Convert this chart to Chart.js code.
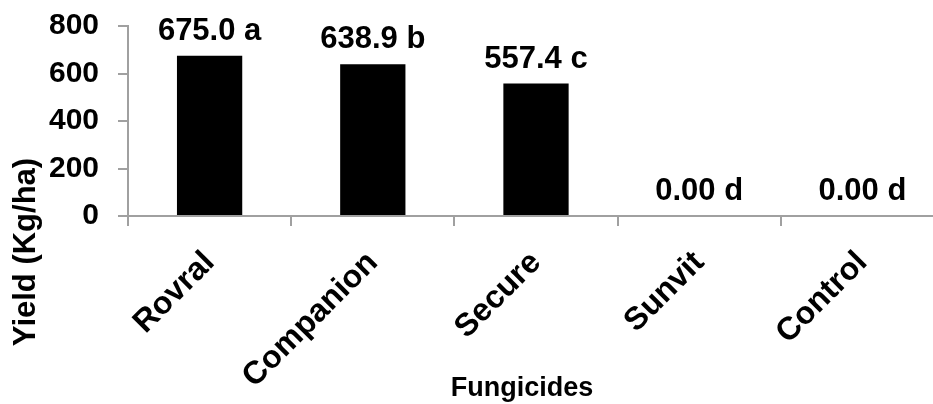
<!DOCTYPE html>
<html>
<head>
<meta charset="utf-8">
<script src="https://cdn.jsdelivr.net/npm/chart.js@4.4.1/dist/chart.umd.min.js"></script>
<style>
  html, body { margin: 0; padding: 0; background: #ffffff; overflow: hidden; }
  #wrap { position: relative; width: 944px; height: 404px; }
</style>
</head>
<body>
<div id="wrap"><canvas id="c"></canvas></div>
<script>
const categories = ['Rovral', 'Companion', 'Secure', 'Sunvit', 'Control'];
const yieldValues = [675.0, 638.9, 557.4, 0.00, 0.00];
const valueTexts = ['675.0', '638.9', '557.4', '0.00', '0.00'];
const letters = ['a', 'b', 'c', 'd', 'd'];
const yTicks = [0, 200, 400, 600, 800];
const xTitle = 'Fungicides';
const yTitle = 'Yield (Kg/ha)';

const FONT = "'Liberation Sans', Arial, Helvetica, sans-serif";
const AXIS_COLOR = '#a0a0a0';

const labelPlugin = {
  id: 'barLabels',
  afterDatasetsDraw(chart) {
    const ctx = chart.ctx;
    const meta = chart.getDatasetMeta(0);
    ctx.save();
    ctx.font = 'bold 31px ' + FONT;
    ctx.fillStyle = '#000000';
    ctx.textAlign = 'center';
    ctx.textBaseline = 'alphabetic';
    meta.data.forEach((bar, i) => {
      ctx.fillText(valueTexts[i] + ' ' + letters[i], bar.x, bar.y - 16);
    });
    ctx.restore();
  },
  afterDraw(chart) {
    const ctx = chart.ctx;
    ctx.save();
    ctx.fillStyle = '#000000';
    ctx.font = 'bold 27px ' + FONT;
    ctx.textAlign = 'center';
    ctx.textBaseline = 'middle';
    ctx.fillText(xTitle, 522, 389);
    ctx.font = 'bold 31px ' + FONT;
    ctx.textBaseline = 'alphabetic';
    ctx.translate(35, 252);
    ctx.rotate(-Math.PI / 2);
    ctx.fillText(yTitle, 0, 0);
    ctx.restore();
  }
};

new Chart(document.getElementById('c'), {
  type: 'bar',
  data: {
    labels: categories,
    datasets: [{
      data: yieldValues,
      backgroundColor: '#000000',
      borderColor: '#000000',
      borderWidth: 0,
      barPercentage: 0.4,
      categoryPercentage: 1.0
    }]
  },
  options: {
    responsive: true,
    maintainAspectRatio: false,
    animation: false,
    events: [],
    layout: { padding: { left: 0, right: 0, top: 26, bottom: 0 } },
    plugins: {
      legend: { display: false },
      tooltip: { enabled: false },
      title: { display: false }
    },
    scales: {
      x: {
        type: 'category',
        offset: true,
        grid: {
          display: true,
          offset: true,
          drawOnChartArea: false,
          drawTicks: true,
          tickLength: 10,
          color: AXIS_COLOR,
          lineWidth: 2
        },
        border: { display: true, color: AXIS_COLOR, width: 2 },
        ticks: {
          color: '#000000',
          font: { family: FONT, size: 32, weight: 'bold' },
          minRotation: 45,
          maxRotation: 45,
          autoSkip: false,
          padding: 18
        },
        afterFit(scale) {
          scale.height = 188;
          scale.paddingLeft = 0;
          scale.paddingRight = 0;
        }
      },
      y: {
        min: 0,
        max: 800,
        afterBuildTicks(scale) { scale.ticks = yTicks.map(v => ({ value: v })); },
        grid: {
          display: true,
          drawOnChartArea: false,
          drawTicks: true,
          tickLength: 10,
          color: AXIS_COLOR,
          lineWidth: 2
        },
        border: { display: true, color: AXIS_COLOR, width: 2 },
        ticks: {
          color: '#000000',
          font: { family: FONT, size: 30, weight: 'bold' },
          padding: 19
        },
        afterFit(scale) {
          scale.width = 128;
          scale.paddingTop = 0;
          scale.paddingBottom = 0;
        }
      }
    }
  },
  plugins: [labelPlugin]
});
</script>
</body>
</html>
